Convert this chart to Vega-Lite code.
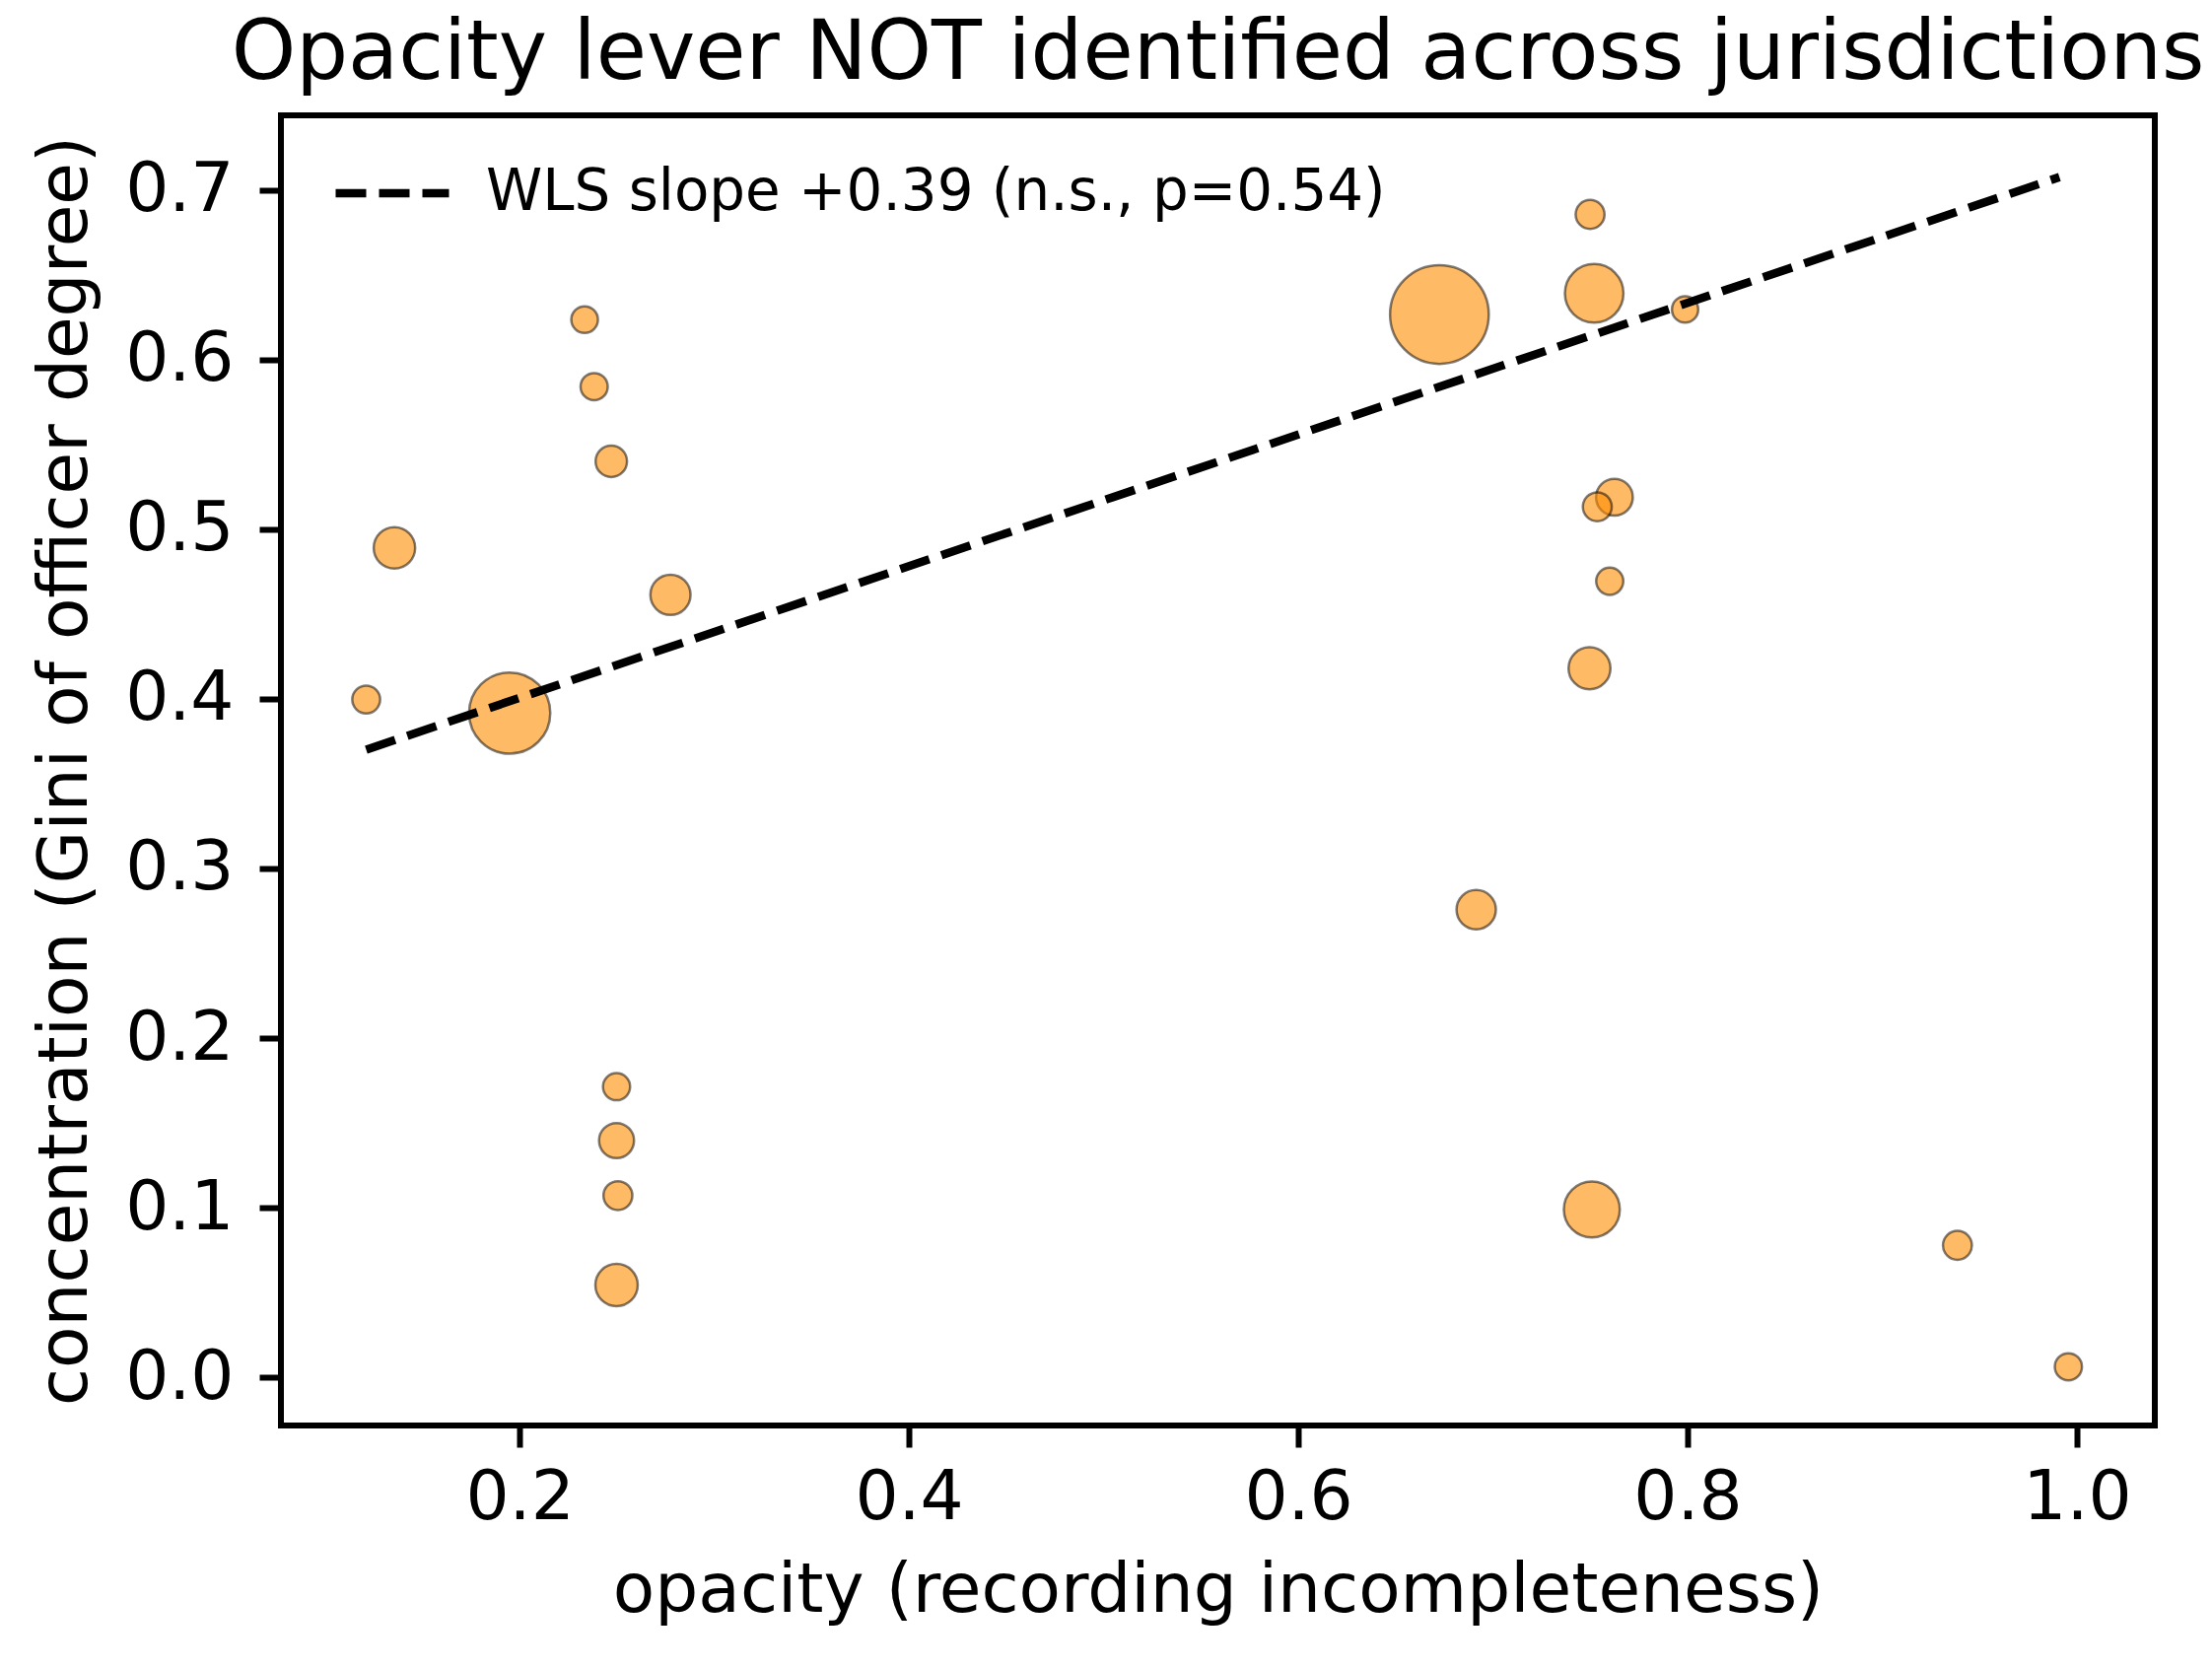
{
  "$schema": "https://vega.github.io/schema/vega-lite/v6.json",
  "width": 1901,
  "height": 1329,
  "autosize": "none",
  "padding": {"left": 285, "top": 117, "right": 58, "bottom": 247},
  "background": "white",
  "config": {
    "font": "DejaVu Sans",
    "view": {"stroke": "#000", "strokeWidth": 6},
    "axis": {
      "domain": false, "grid": false,
      "tickColor": "#000", "tickWidth": 6, "tickSize": 22,
      "labelFontSize": 69.4, "labelColor": "#000", "labelFont": "DejaVu Sans",
      "titleFontSize": 69.4, "titleFontWeight": "normal", "titleColor": "#000", "titleFont": "DejaVu Sans"
    },
    "title": {"fontSize": 83.3, "fontWeight": "normal", "color": "#000", "font": "DejaVu Sans"}
  },
  "title": {"text": "Opacity lever NOT identified across jurisdictions", "baseline": "alphabetic", "offset": -46},
  "layer": [
    {
      "data": {"values": [
        {"opacity": 0.1212, "gini": 0.3996, "weight": 80},
        {"opacity": 0.1357, "gini": 0.489, "weight": 177},
        {"opacity": 0.1949, "gini": 0.3916, "weight": 679},
        {"opacity": 0.2334, "gini": 0.6235, "weight": 73},
        {"opacity": 0.2383, "gini": 0.584, "weight": 76},
        {"opacity": 0.2471, "gini": 0.540, "weight": 102},
        {"opacity": 0.2775, "gini": 0.4613, "weight": 166},
        {"opacity": 0.2498, "gini": 0.1714, "weight": 76},
        {"opacity": 0.2498, "gini": 0.1396, "weight": 126},
        {"opacity": 0.2505, "gini": 0.1072, "weight": 86},
        {"opacity": 0.2498, "gini": 0.0545, "weight": 185},
        {"opacity": 0.6725, "gini": 0.6265, "weight": 1003},
        {"opacity": 0.7499, "gini": 0.6855, "weight": 86},
        {"opacity": 0.752, "gini": 0.639, "weight": 353},
        {"opacity": 0.7987, "gini": 0.6295, "weight": 71},
        {"opacity": 0.7624, "gini": 0.5188, "weight": 139},
        {"opacity": 0.7536, "gini": 0.5132, "weight": 86},
        {"opacity": 0.76, "gini": 0.4693, "weight": 76},
        {"opacity": 0.7496, "gini": 0.418, "weight": 181},
        {"opacity": 0.6914, "gini": 0.2757, "weight": 159},
        {"opacity": 0.7508, "gini": 0.099, "weight": 322},
        {"opacity": 0.9386, "gini": 0.0779, "weight": 86},
        {"opacity": 0.9956, "gini": 0.0063, "weight": 76}
      ]},
      "mark": {"type": "circle", "color": "#FF8C00", "fillOpacity": 0.6, "stroke": "#000", "strokeOpacity": 0.5, "strokeWidth": 2.5},
      "encoding": {
        "x": {"field": "opacity", "type": "quantitative",
              "scale": {"domain": [0.0774, 1.04], "nice": false, "zero": false},
              "axis": {"values": [0.2, 0.4, 0.6, 0.8, 1.0], "format": ".1f", "title": "opacity (recording incompleteness)", "labelPadding": 17, "titlePadding": 26}},
        "y": {"field": "gini", "type": "quantitative",
              "scale": {"domain": [-0.0283, 0.7439], "nice": false, "zero": false},
              "axis": {"values": [0, 0.1, 0.2, 0.3, 0.4, 0.5, 0.6, 0.7], "format": ".1f", "title": "concentration (Gini of officer degree)", "labelPadding": 26, "titlePadding": 24}},
        "size": {"field": "weight", "type": "quantitative", "scale": {"domain": [0, 1000], "range": [0, 10000]}, "legend": null}
      }
    },
    {
      "data": {"values": [
        {"opacity": 0.1212, "gini": 0.370, "fit": "WLS slope +0.39 (n.s., p=0.54)"},
        {"opacity": 0.991, "gini": 0.7075, "fit": "WLS slope +0.39 (n.s., p=0.54)"}
      ]},
      "mark": {"type": "line", "color": "#000", "strokeWidth": 8.5, "strokeCap": "butt"},
      "encoding": {
        "x": {"field": "opacity", "type": "quantitative"},
        "y": {"field": "gini", "type": "quantitative"},
        "strokeDash": {"field": "fit", "type": "nominal",
          "scale": {"range": [[31, 13]]},
          "legend": {"title": null, "orient": "none", "legendX": 51, "legendY": 17,
            "symbolType": "stroke", "symbolSize": 13225, "symbolStrokeWidth": 8.5, "symbolStrokeColor": "#000",
            "labelFontSize": 57.9, "labelFont": "DejaVu Sans", "labelColor": "#000", "labelOffset": 33, "labelLimit": 2000, "padding": 0}}
      }
    }
  ]
}
